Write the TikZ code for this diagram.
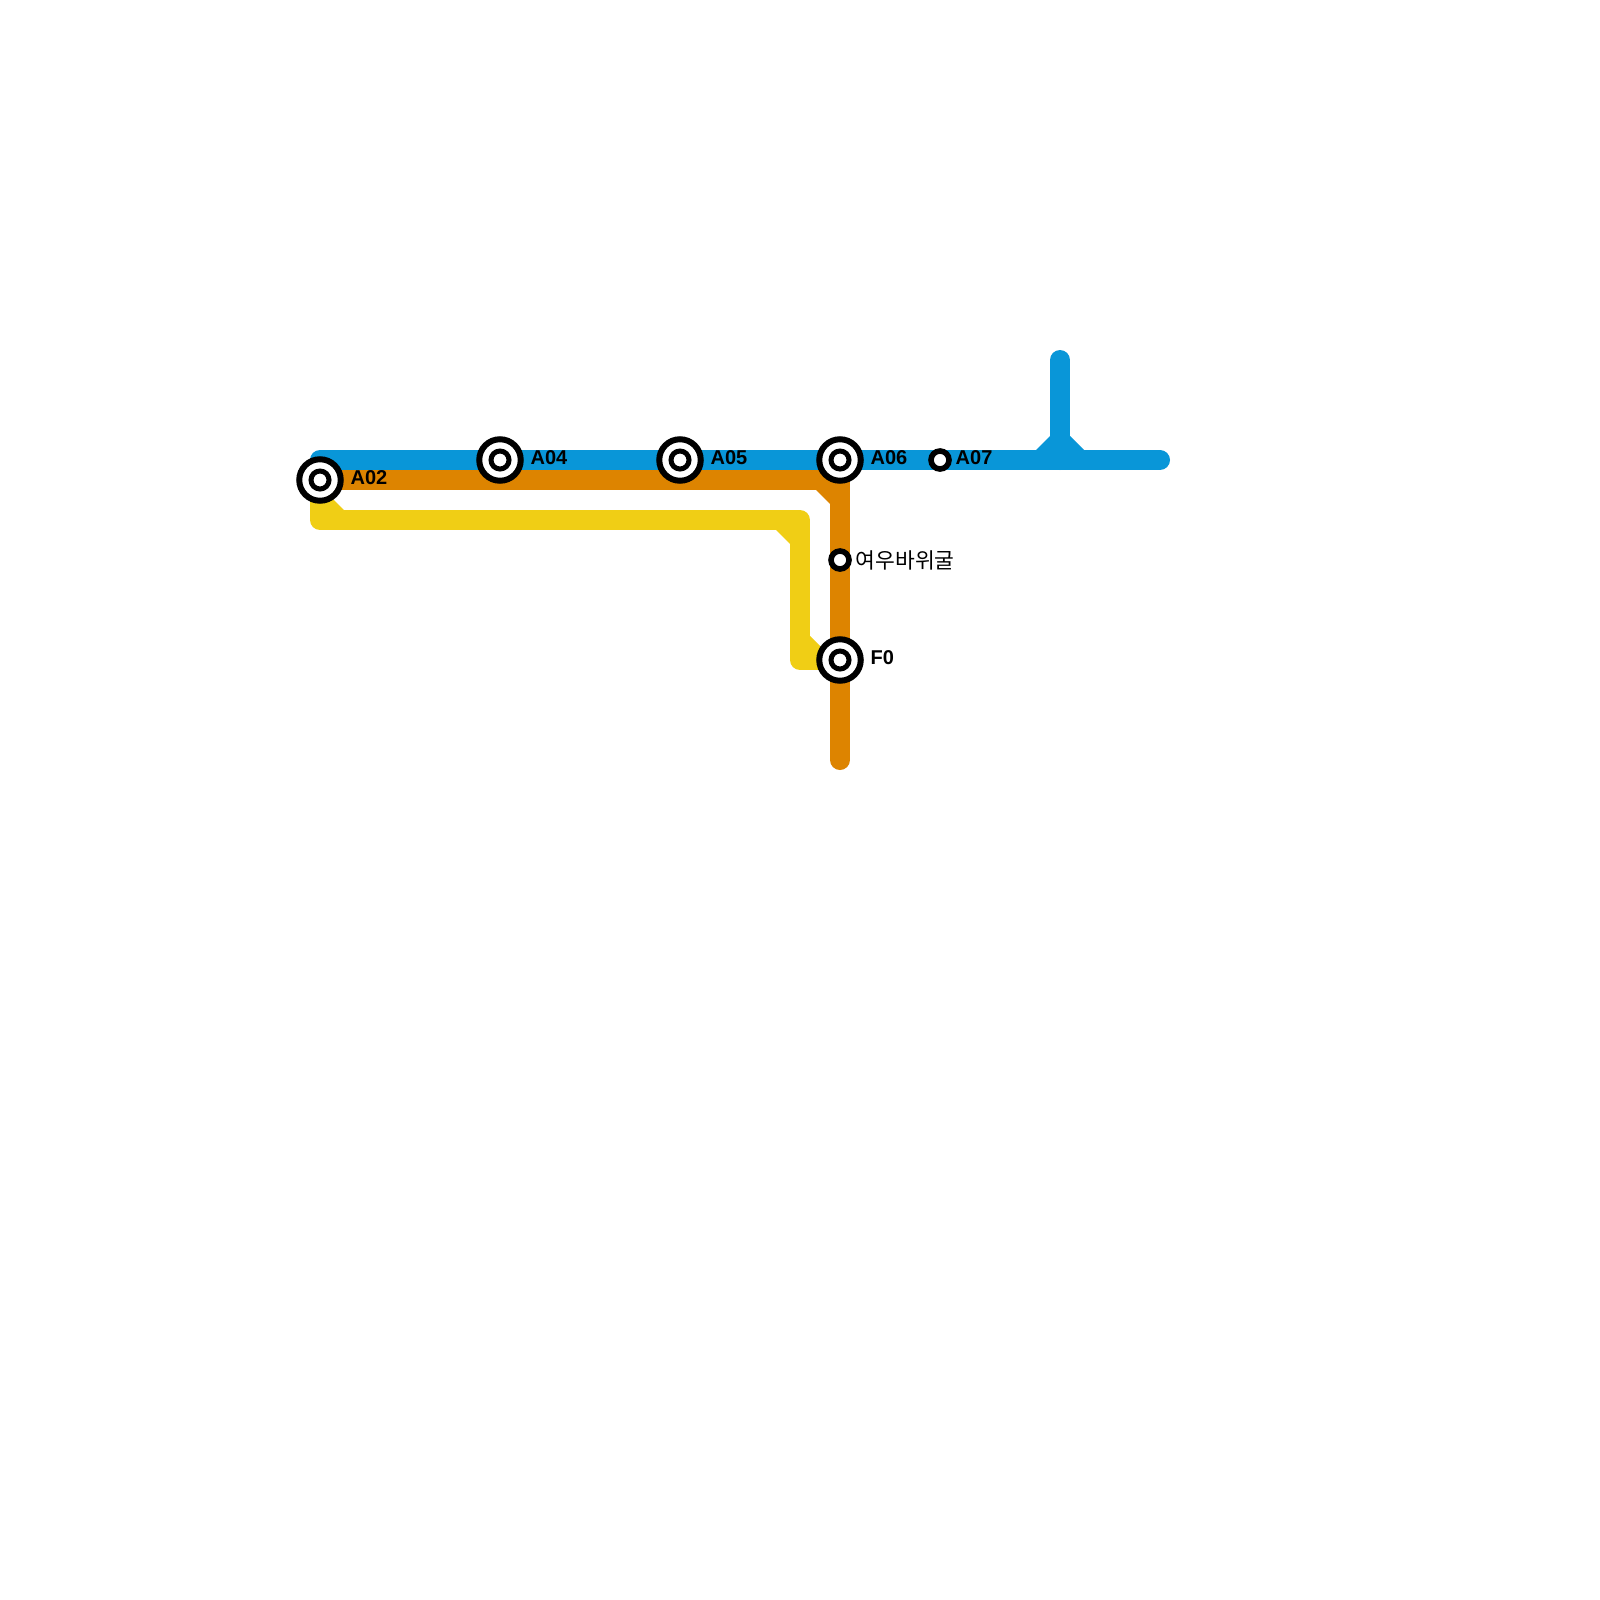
\documentclass[tikz,border=0pt]{standalone}
\usepackage{fontspec}
\setmainfont{Liberation Sans}
\newfontfamily\hangul{Noto Sans CJK KR}
\usetikzlibrary{positioning, backgrounds}
\definecolor{azullinea}{RGB}{9, 150, 216}
\definecolor{naranjalinea}{RGB}{221, 132, 0}
\definecolor{amarillolinea}{RGB}{240, 206, 21}
\tikzset{
  route/.style={line width=20pt, line cap=round, line join=round},
  bigstop/.style={circle, draw=black, fill=white, line width=6pt, minimum size=41.5pt, inner sep=0pt},
  bigcore/.style={circle, draw=black, fill=white, line width=5pt, minimum size=18pt, inner sep=0pt},
  smallstop/.style={circle, draw=black, fill=white, line width=5.6pt, minimum size=18pt, inner sep=0pt},
  biglabel/.style={font=\fontsize{20}{24}\selectfont\bfseries, inner sep=0pt, yshift=2pt},
  smalllabel/.style={font=\fontsize{21.5}{25}\selectfont, inner sep=0pt},
}

\begin{document}
\begin{tikzpicture}[x=1pt, y=-1pt]
      \useasboundingbox (0,0) rectangle (1600,1600);

      \node[bigstop] (a02) at (320,480) {};
      \node[bigcore] (a02core) at (a02) {};
      \node[bigstop] (a04) at (500,460) {};
      \node[bigcore] (a04core) at (a04) {};
      \node[bigstop] (a05) at (680,460) {};
      \node[bigcore] (a05core) at (a05) {};
      \node[bigstop] (a06) at (840,460) {};
      \node[bigcore] (a06core) at (a06) {};
      \node[bigstop] (f0) at (840,660) {};
      \node[bigcore] (f0core) at (f0) {};
      \node[smallstop] (a07) at (940,460) {};
      \node[smallstop] (cave) at (840,560) {};

      \node[biglabel, right=6.7pt of a02] (a02text) {A02};
      \node[biglabel, right=6.7pt of a04] (a04text) {A04};
      \node[biglabel, right=6.7pt of a05] (a05text) {A05};
      \node[biglabel, right=6.7pt of a06] (a06text) {A06};
      \node[biglabel, right=6.7pt of f0] (f0text) {F0};
      \node[biglabel, right=3.7pt of a07] (a07text) {A07};
      \node[smalllabel, right=3.7pt of cave, yshift=-0.5pt] (cavetext) {\hangul 여우바위굴};

      \coordinate (bluestart) at (320,460);
      \coordinate (blueend) at (1160,460);
      \coordinate (branchtop) at (1060,360);
      \coordinate (branchfoot) at (1060,460);
      \coordinate (orangecorner) at (840,480);
      \coordinate (orangeend) at (840,760);
      \coordinate (yellowa) at (320,520);
      \coordinate (yellowb) at (800,520);
      \coordinate (yellowc) at (800,660);

      \begin{scope}[on background layer]
        \draw[route, amarillolinea] (a02.center) -- (yellowa) -- (yellowb) -- (yellowc) -- (f0.center);
        \fill[amarillolinea] (330,496) -- (344,510) -- (330,510) -- cycle;
        \fill[amarillolinea] (776,530) -- (790,530) -- (790,544) -- cycle;
        \fill[amarillolinea] (810,636) -- (824,650) -- (810,650) -- cycle;

        \draw[route, naranjalinea] (a02.center) -- (orangecorner) -- (orangeend);
        \fill[naranjalinea] (816,490) -- (830,490) -- (830,504) -- cycle;

        \draw[route, azullinea] (bluestart) -- (blueend);
        \draw[route, azullinea] (branchtop) -- (branchfoot);
        \fill[azullinea] (1036,450) -- (1050,436) -- (1050,450) -- cycle;
        \fill[azullinea] (1070,436) -- (1084,450) -- (1070,450) -- cycle;
      \end{scope}
    \end{tikzpicture}
\end{document}
